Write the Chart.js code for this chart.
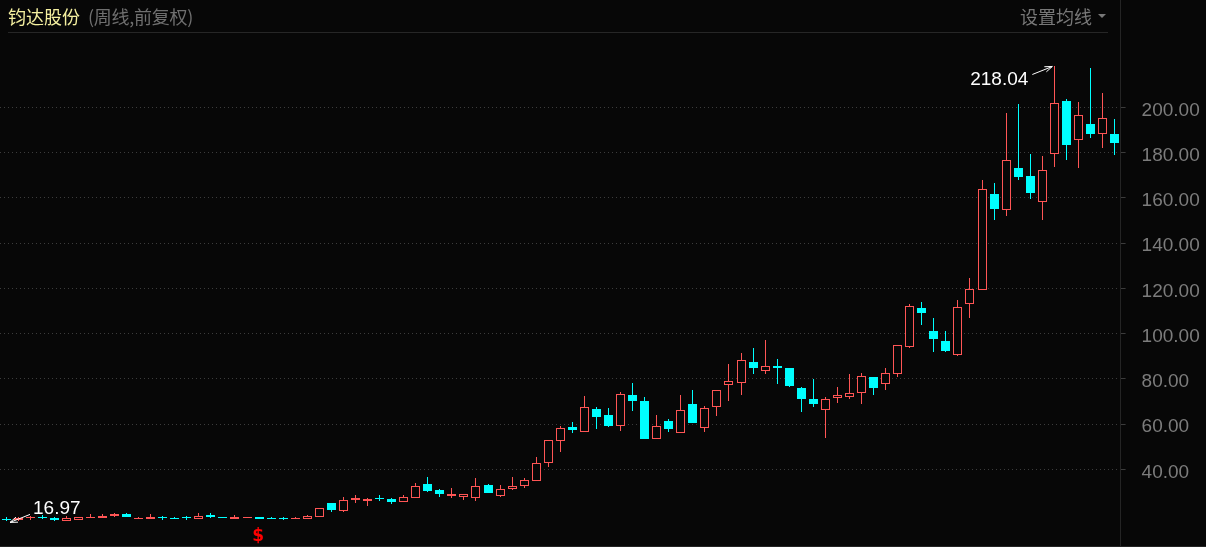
<!DOCTYPE html>
<html>
<head>
<meta charset="utf-8">
<script src="https://cdn.jsdelivr.net/npm/chart.js@4"></script>
<style>
  html, body { margin: 0; padding: 0; background: #070707; overflow: hidden; }
  #wrap { position: relative; width: 1206px; height: 547px; }
  #head { position: absolute; left: 8px; top: 4px; font: 18px "Noto Sans CJK SC"; line-height: 24px; white-space: nowrap; z-index: 2; }
  #head .name { color: #f5f0a0; }
  #head .kind { color: #6f6f6f; margin-left: 8px; letter-spacing: -0.25px; }
  #setup { position: absolute; left: 1020px; top: 4px; font: 18px "Noto Sans CJK SC"; line-height: 24px; color: #787878; z-index: 2; }
  #setup i { position: absolute; left: 78px; top: 10px; border: 4px solid transparent; border-top: 4px solid #787878; border-bottom: 0; }
  #rule { position: absolute; left: 8px; top: 32px; width: 1100px; height: 1px; background: #262626; z-index: 2; }
  #foot { position: absolute; left: 0; top: 546px; width: 1206px; height: 1px; background: #242424; z-index: 2; }
  canvas { position: absolute; left: 0; top: 0; }
</style>
</head>
<body>
<div id="wrap">
  <div id="head"><span class="name">钧达股份</span><span class="kind">(周线,前复权)</span></div>
  <div id="setup">设置均线<i></i></div>
  <div id="rule"></div>
  <div id="foot"></div>
  <canvas id="chart" width="1206" height="547"></canvas>
</div>
<script>
const opens = [18.1, 17.8, 18.5, 18.8, 18.5, 17.0, 17.8, 18.8, 18.5, 19.5, 20.4, 18.1, 18.1, 18.8, 18.5, 18.8, 18.2, 19.9, 18.8, 18.1, 18.6, 18.8, 18.5, 18.3, 18.2, 18.2, 19.1, 25.1, 21.7, 26.4, 26.0, 27.2, 26.9, 25.7, 27.4, 33.5, 30.9, 28.2, 27.9, 27.4, 32.9, 28.2, 31.4, 32.8, 34.9, 42.9, 52.6, 58.7, 56.6, 66.6, 64.0, 59.3, 72.8, 70.2, 53.5, 61.3, 56.2, 68.9, 58.4, 67.7, 77.4, 78.3, 87.4, 83.6, 85.7, 84.8, 75.9, 71.1, 66.1, 71.6, 72.1, 73.9, 80.8, 77.8, 82.3, 94.2, 111.3, 101.1, 96.7, 90.6, 112.9, 119.4, 161.7, 154.7, 173.2, 169.6, 158.3, 179.5, 202.7, 185.7, 192.6, 188.1, 188.2];
const closes = [18.0, 18.3, 18.7, 18.6, 17.8, 18.5, 18.8, 19.0, 19.4, 20.2, 19.0, 18.5, 18.9, 18.6, 18.3, 18.6, 19.2, 18.9, 18.6, 18.9, 18.8, 18.1, 18.3, 18.1, 18.5, 19.2, 22.8, 22.0, 26.3, 27.3, 26.9, 27.0, 25.7, 27.6, 32.5, 30.4, 29.1, 29.1, 29.0, 32.5, 29.5, 31.2, 32.5, 35.1, 42.7, 52.8, 58.1, 57.4, 67.4, 63.1, 59.1, 73.1, 70.2, 53.4, 59.0, 57.8, 66.1, 60.5, 67.0, 74.9, 78.9, 88.2, 84.8, 85.5, 84.8, 76.8, 71.1, 68.9, 70.9, 72.7, 73.6, 81.1, 75.9, 82.4, 94.8, 112.4, 109.1, 97.6, 92.3, 111.6, 119.6, 163.8, 155.1, 176.6, 169.2, 162.1, 172.2, 201.7, 183.3, 196.5, 188.2, 195.1, 184.2];
const highs = [18.8, 18.7, 19.5, 19.7, 19.0, 19.2, 18.9, 20.2, 20.3, 20.7, 20.7, 19.1, 20.1, 19.5, 19.0, 19.5, 20.6, 20.6, 18.8, 19.8, 18.8, 18.8, 19.0, 19.0, 19.0, 19.8, 22.8, 25.1, 27.6, 28.6, 27.3, 28.6, 27.3, 28.6, 33.8, 36.5, 31.2, 31.7, 29.0, 36.0, 33.5, 32.9, 36.5, 36.0, 45.4, 52.8, 59.1, 60.9, 72.4, 67.4, 67.0, 74.2, 78.1, 72.0, 64.0, 62.2, 72.8, 75.0, 68.0, 74.9, 86.5, 91.4, 93.6, 97.1, 88.7, 84.8, 76.4, 79.9, 71.9, 76.4, 82.1, 82.6, 80.8, 84.8, 94.8, 113.1, 113.9, 106.9, 101.1, 114.8, 124.6, 167.8, 166.5, 197.5, 201.3, 179.4, 178.5, 218.04, 203.6, 202.3, 217.4, 206.3, 194.8];
const lows = [16.97, 17.3, 17.7, 18.1, 17.2, 17.0, 17.8, 18.4, 18.5, 19.0, 19.0, 18.0, 18.1, 17.8, 17.9, 17.6, 18.2, 18.5, 18.5, 18.1, 18.6, 18.1, 17.9, 17.6, 18.0, 18.2, 19.1, 21.3, 21.1, 25.2, 23.8, 26.0, 24.7, 25.7, 27.4, 30.0, 27.8, 27.3, 26.4, 26.0, 29.5, 27.8, 30.9, 31.9, 34.9, 41.2, 47.8, 56.2, 56.6, 57.8, 58.7, 56.9, 65.8, 53.4, 53.5, 56.5, 56.2, 60.5, 56.5, 63.6, 70.2, 72.8, 82.1, 82.1, 77.7, 76.4, 65.3, 67.5, 54.0, 69.3, 71.2, 68.9, 72.8, 75.0, 80.8, 93.6, 103.8, 91.8, 91.8, 90.1, 106.9, 119.4, 150.2, 152.0, 167.9, 159.5, 150.2, 173.6, 176.7, 173.2, 186.4, 182.0, 178.9];
const weeks = opens.map((_, i) => i + 1);
const yTicks = [40, 60, 80, 100, 120, 140, 160, 180, 200];
const signalWeek = 21; // the red $ under this candle

const UP = '#ff5555';
const DOWN = '#00ffff';
const BG = '#070707';

const isUp = i => closes[i] >= opens[i];

// bars land on fractions of a pixel, snap them so the candles stay crisp
const snapBars = {
    id: 'snapBars',
    beforeDatasetsDraw(chart) {
        chart.data.datasets.forEach((ds, d) => {
            chart.getDatasetMeta(d).data.forEach(bar => {
                bar.x = Math.floor(bar.x) + 0.5;
                bar.y = Math.round(bar.y);
                bar.base = Math.round(bar.base);
                if (bar.y === bar.base) bar.base = bar.y + 1;
            });
        });
    }
};

function arrow(ctx, x1, y1, x2, y2) {
    const a = Math.atan2(y2 - y1, x2 - x1);
    ctx.beginPath();
    ctx.moveTo(x1, y1);
    ctx.lineTo(x2, y2);
    ctx.moveTo(x2 - 8 * Math.cos(a - 0.35), y2 - 8 * Math.sin(a - 0.35));
    ctx.lineTo(x2, y2);
    ctx.lineTo(x2 - 8 * Math.cos(a + 0.35), y2 - 8 * Math.sin(a + 0.35));
    ctx.stroke();
}

const marks = {
    id: 'marks',
    afterDraw(chart) {
        const { ctx, scales: { x, y } } = chart;
        const hi = highs.indexOf(Math.max(...highs));
        const lo = lows.indexOf(Math.min(...lows));
        ctx.save();
        ctx.font = '19px "Liberation Sans"';
        ctx.fillStyle = '#ffffff';
        ctx.strokeStyle = '#ffffff';
        ctx.lineWidth = 1;

        const hx = x.getPixelForValue(hi), hy = y.getPixelForValue(highs[hi]);
        ctx.textAlign = 'right';
        ctx.fillText(highs[hi].toFixed(2), hx - 26, hy + 19);
        arrow(ctx, hx - 22, hy + 8, hx - 2, hy);

        const lx = x.getPixelForValue(lo), ly = y.getPixelForValue(lows[lo]);
        ctx.textAlign = 'left';
        ctx.fillText(lows[lo].toFixed(2), lx + 27, ly - 7);
        arrow(ctx, lx + 24, ly - 7, lx + 4, ly + 1);

        ctx.font = 'bold 17px "DejaVu Sans"';
        ctx.fillStyle = '#ff0000';
        ctx.textAlign = 'center';
        ctx.fillText('$', x.getPixelForValue(signalWeek) - 1, y.getPixelForValue(lows[signalWeek]) + 22);
        ctx.restore();
    }
};

new Chart(document.getElementById('chart'), {
    type: 'bar',
    data: {
        labels: weeks,
        datasets: [
            {
                label: 'body',
                data: opens.map((o, i) => [o, closes[i]]),
                barThickness: 9,
                grouped: false,
                inflateAmount: 0,
                borderWidth: 1,
                borderSkipped: false,
                borderColor: opens.map((_, i) => isUp(i) ? UP : DOWN),
                backgroundColor: opens.map((_, i) => isUp(i) ? BG : DOWN)
            },
            {
                label: 'wick',
                data: lows.map((l, i) => [l, highs[i]]),
                barThickness: 1,
                grouped: false,
                inflateAmount: 0,
                borderWidth: 0,
                backgroundColor: opens.map((_, i) => isUp(i) ? UP : DOWN)
            }
        ]
    },
    options: {
        responsive: false,
        animation: false,
        layout: { padding: 0 },
        plugins: { legend: { display: false }, tooltip: { enabled: false } },
        scales: {
            x: { display: false, offset: true, grid: { display: false } },
            y: {
                position: 'right',
                min: 5.66,
                max: 247.43,
                afterBuildTicks(axis) { axis.ticks = yTicks.map(value => ({ value })); },
                afterFit(axis) {
                    axis.width = 85.4;
                    axis.paddingTop = 0;
                    axis.paddingBottom = 0;
                },
                grid: { color: '#3c3c3c', lineWidth: 1, tickLength: 5 },
                border: { color: '#242424', dash: [1, 3] },
                ticks: {
                    color: '#7c7c7c',
                    padding: 16,
                    labelOffset: 3,
                    font: { family: '"Liberation Sans"', size: 19 },
                    callback: v => v.toFixed(2)
                }
            }
        }
    },
    plugins: [snapBars, marks]
});
</script>
</body>
</html>
